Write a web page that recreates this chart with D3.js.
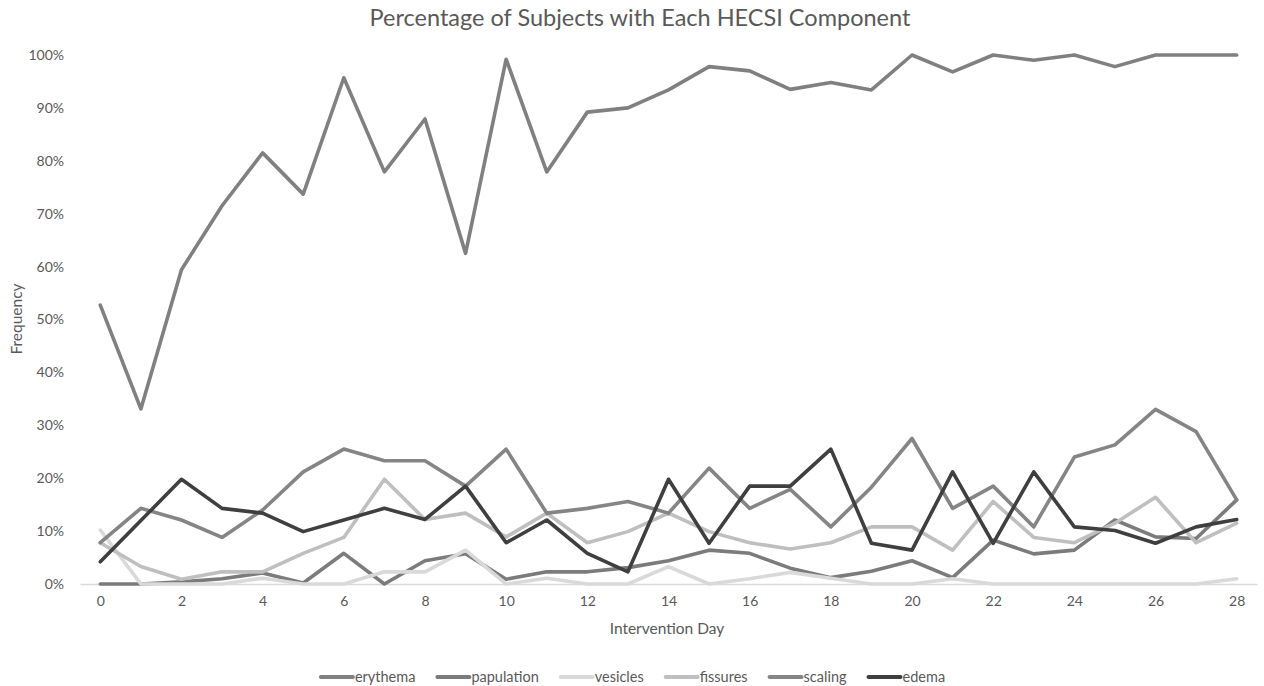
<!DOCTYPE html>
<html>
<head>
<meta charset="utf-8">
<script src="https://cdn.jsdelivr.net/npm/d3@7"></script>
<style>
  html, body { margin: 0; padding: 0; background: #fff; }
  svg { display: block; font-family: Lato, "Open Sans", sans-serif; }
</style>
</head>
<body>
<svg id="chart" width="1264" height="686"></svg>
<script>
const days = d3.range(0, 29);
const xTickLabels = [0, 2, 4, 6, 8, 10, 12, 14, 16, 18, 20, 22, 24, 26, 28];
const yTickLabels = [0, 10, 20, 30, 40, 50, 60, 70, 80, 90, 100];

const seriesNames = ["erythema", "papulation", "vesicles", "fissures", "scaling", "edema"];
const erythema   = [52.7,33.1,59.4,71.5,81.5,73.7,95.7,77.9,87.9,62.5,99.2,77.9,89.2,90.0,93.4,97.8,97.0,93.5,94.8,93.4,100,96.8,100,99.0,100,97.8,100,100,100];
const papulation = [0,0,0.4,1.0,2.1,0.2,5.8,0,4.4,5.7,0.9,2.3,2.3,3.1,4.4,6.4,5.8,3.0,1.2,2.4,4.4,1.2,8.3,5.7,6.4,12.1,8.9,8.6,15.9];
const vesicles   = [10.2,0,0,0,1.1,0,0,2.3,2.3,6.4,0,1.1,0,0,3.3,0,1.0,2.2,1.1,0,0,1.0,0,0,0,0,0,0,1.0];
const fissures   = [7.8,3.3,0.9,2.3,2.3,5.8,8.8,19.8,12.2,13.4,8.9,13.4,7.8,9.9,13.4,9.9,7.8,6.6,7.8,10.8,10.8,6.4,15.6,8.8,7.8,11.5,16.4,7.8,11.5];
const scaling    = [7.8,14.3,12.1,8.8,14.0,21.2,25.5,23.3,23.3,18.5,25.5,13.4,14.3,15.6,13.4,21.9,14.3,17.9,10.8,18.3,27.5,14.3,18.5,10.8,24.0,26.3,33.0,28.8,15.9];
const edema      = [4.2,12.0,19.8,14.3,13.4,9.9,12.1,14.3,12.2,18.5,7.8,12.1,5.8,2.3,19.8,7.7,18.5,18.5,25.5,7.7,6.4,21.2,7.7,21.2,10.8,10.1,7.7,10.8,12.2];
const seriesColors = ["#808080", "#7b7b7b", "#d9d9d9", "#bfbfbf", "#858585", "#3f3f3f"];

const seriesValues = [erythema, papulation, vesicles, fissures, scaling, edema];
const series = seriesNames.map((name, i) => ({
  name, color: seriesColors[i],
  values: days.map((d, j) => ({ day: d, v: seriesValues[i][j] }))
}));

const svg = d3.select("#chart");
const textColor = "#595959";
const font = "Lato, 'Open Sans', sans-serif";

const x = d3.scalePoint().domain(days).range([80, 1257]).padding(0.5);
const y = d3.scaleLinear().domain([0, 100]).range([584, 55]);

// title
svg.append("text")
  .attr("x", 640).attr("y", 26)
  .attr("text-anchor", "middle")
  .attr("font-size", 23.5)
  .attr("fill", textColor)
  .text("Percentage of Subjects with Each HECSI Component");

// y axis labels
const yAxis = d3.axisLeft(y).tickValues(yTickLabels).tickFormat(d => d + "%").tickSize(0).tickPadding(0);
const gy = svg.append("g").attr("transform", "translate(64,0)").call(yAxis);
gy.select(".domain").remove();
gy.selectAll("text").attr("font-size", 14).attr("fill", textColor).attr("font-family", font);

// x axis
const xAxis = d3.axisBottom(x).tickValues(xTickLabels).tickSize(0).tickPadding(12);
const gx = svg.append("g").attr("transform", "translate(0,584)").call(xAxis);
gx.select(".domain").attr("stroke", "#d9d9d9").attr("stroke-width", 1.3);
gx.selectAll("text").attr("font-size", 14).attr("fill", textColor).attr("font-family", font);

// axis titles
svg.append("text")
  .attr("x", 667).attr("y", 634)
  .attr("text-anchor", "middle")
  .attr("font-size", 15.5).attr("fill", textColor)
  .text("Intervention Day");
svg.append("text")
  .attr("transform", "translate(22,319) rotate(-90)")
  .attr("text-anchor", "middle")
  .attr("font-size", 15.5).attr("fill", textColor)
  .text("Frequency");

// lines
const line = d3.line().x(d => x(d.day)).y(d => y(d.v));
svg.append("g").selectAll("path")
  .data(series)
  .join("path")
  .attr("d", d => line(d.values))
  .attr("fill", "none")
  .attr("stroke", d => d.color)
  .attr("stroke-width", 3.6)
  .attr("stroke-linejoin", "round")
  .attr("stroke-linecap", "round");

// legend
const legend = svg.append("g");
const items = legend.selectAll("g").data(series).join("g");
const sw = 34;
items.append("line")
  .attr("x1", 2).attr("x2", sw).attr("y1", 0).attr("y2", 0)
  .attr("stroke", d => d.color).attr("stroke-width", 4).attr("stroke-linecap", "round");
items.append("text")
  .attr("x", sw + 2).attr("y", 5)
  .attr("font-size", 14.5).attr("fill", textColor)
  .text(d => d.name);
const widths = [];
items.each(function() {
  widths.push(d3.select(this).select("text").node().getComputedTextLength() + sw + 2);
});
const gap = 20;
const total = d3.sum(widths) + gap * (widths.length - 1);
let start = 632 - total / 2;
items.attr("transform", (d, i) => {
  const t = `translate(${start},677)`;
  start += widths[i] + gap;
  return t;
});
</script>
</body>
</html>
